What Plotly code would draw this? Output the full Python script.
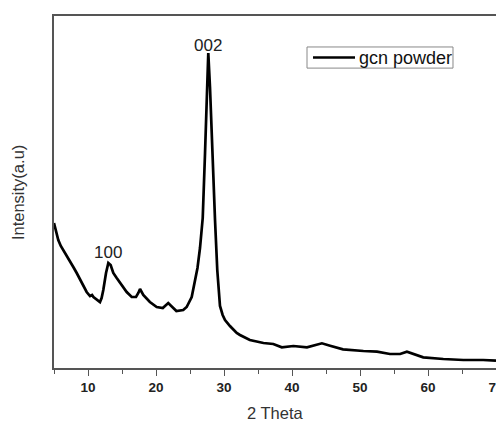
import plotly.graph_objects as go

# 2-theta positions (degrees) and intensity (a.u.)
two_theta = [5.0, 5.3, 5.63, 6.0, 6.37, 6.7, 7.1, 7.5, 7.84, 8.34, 8.7, 9.07, 9.45, 9.8, 10.3,
             10.6, 10.8, 11.3, 11.76, 12.0, 12.25, 12.65, 12.99, 13.33, 13.72, 14.22, 14.95,
             15.69, 16.43, 17.06, 17.4, 17.65, 18.13, 19.1, 20.1, 21.0, 21.8, 22.5, 23.0,
             24.0, 24.51, 25.25, 25.74, 26.1, 26.47, 26.87, 27.21, 27.46, 27.69, 27.94, 28.28,
             28.68, 29.01, 29.41, 29.8, 30.15, 30.88, 31.87, 32.35, 33.8, 35.8, 37.25, 38.5,
             40.2, 42.2, 43.3, 44.4, 45.6, 47.5, 50.5, 52.5, 54.4, 55.9, 56.9, 57.8, 59.3,
             62.25, 65.2, 68.1, 70.0]
intensity = [145, 136, 128, 122, 118, 114, 110, 105, 101, 95, 90, 85, 80, 76, 72,
             73, 71, 68, 66, 70, 78, 95, 105, 103, 95, 90, 83,
             76, 71, 71, 75, 79, 73, 66, 61, 60, 65, 60, 57,
             58, 61, 71, 88, 100, 120, 150, 215, 281, 315, 281, 215,
             148, 98, 62, 53, 48, 42, 35, 33, 28, 25, 24, 20.7,
             22, 20.7, 22.5, 24.7, 22.3, 18.7, 17, 16.3, 14, 14, 16.3, 14, 10.7,
             9, 8, 8, 7.3]

legend_label = "gcn powder"
peak_labels = ["002", "100"]
peak_x = [27.69, 12.99]
peak_y = [315, 105]
label_shift = [8, 11]

fig = go.Figure()
fig.add_trace(go.Scatter(x=two_theta, y=intensity, mode="lines",
                         line=dict(color="black", width=2.7), name=legend_label,
                         showlegend=False))

for t, px_, py_, sh in zip(peak_labels, peak_x, peak_y, label_shift):
    fig.add_annotation(x=px_, y=py_, text=t, showarrow=False, yshift=sh,
                       yanchor="middle",
                       font=dict(size=17, color="#222", family="Liberation Sans"))

# legend box drawn to match the reference's compact legend
fig.add_shape(type="rect", xref="paper", yref="paper", x0=0.5724, x1=0.9027,
              y0=0.852, y1=0.912, line=dict(color="#888", width=1), fillcolor="white")
fig.add_shape(type="line", xref="paper", yref="paper", x0=0.586, x1=0.681,
              y0=0.882, y1=0.882, line=dict(color="black", width=2.6))
fig.add_annotation(xref="paper", yref="paper", x=0.6855, y=0.882, text=legend_label,
                   showarrow=False, xanchor="left", yanchor="middle",
                   font=dict(size=18, color="#111", family="Liberation Sans"))

# axis titles
fig.add_annotation(xref="paper", yref="paper", x=0.5, y=-0.127, text="2 Theta",
                   showarrow=False, xanchor="center", yanchor="middle",
                   font=dict(size=16.5, color="#333", family="Liberation Sans"))
fig.add_annotation(xref="paper", yref="paper", x=-0.0814, y=0.497, text="Intensity(a.u)",
                   showarrow=False, xanchor="center", yanchor="middle", textangle=-90,
                   font=dict(size=16.5, color="#333", family="Liberation Sans"))

# page body adds an 8px offset, so the figure is sized to fill the rest of the window
fig.update_layout(
    width=496, height=414,
    margin=dict(l=46, r=8, t=8, b=54),
    paper_bgcolor="white", plot_bgcolor="white",
    font=dict(family="Liberation Sans", color="#222"),
    showlegend=False,
)
fig.update_xaxes(range=[5, 70], showline=True, linecolor="#555", linewidth=1.5,
                 mirror=True, ticks="outside", ticklen=6, tickcolor="#555", tickwidth=1.2,
                 tickvals=[10, 20, 30, 40, 50, 60, 70], automargin=False,
                 tickfont=dict(size=13.5, family="Liberation Sans", color="#222", weight="bold"),
                 minor=dict(tickvals=[5, 15, 25, 35, 45, 55, 65], ticks="outside",
                            ticklen=4, tickcolor="#555", tickwidth=1.2),
                 showgrid=False, zeroline=False)
fig.update_yaxes(range=[0, 352], showline=True, linecolor="#555", linewidth=1.5,
                 mirror=True, showticklabels=False, ticks="", automargin=False,
                 showgrid=False, zeroline=False)

fig.write_html("out.html")
